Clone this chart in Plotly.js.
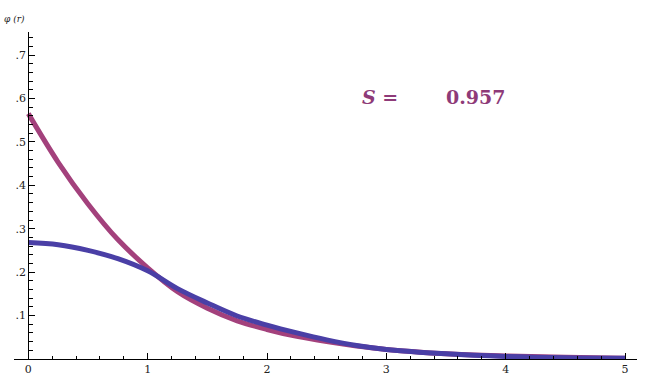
<!DOCTYPE html>
<html>
<head>
<meta charset="utf-8">
<script src="https://cdn.plot.ly/plotly-3.0.1.min.js"></script>
<style>html,body{margin:0;padding:0;background:#fff;}#chart{width:649px;height:377px;}</style>
</head>
<body>
<div id="chart"></div>
<script>
const xVals = [0, 0.25, 0.5, 0.75, 1.0, 1.25, 1.5, 1.75, 2.0, 2.25, 2.5, 2.75, 3.0, 3.5, 4.0, 4.5, 5.0];
const redVals = [0.565, 0.453, 0.357, 0.275, 0.210, 0.155, 0.117, 0.088, 0.068, 0.052, 0.040, 0.030, 0.022, 0.012, 0.007, 0.004, 0.002];
const blueVals = [0.268, 0.263, 0.250, 0.231, 0.203, 0.162, 0.129, 0.099, 0.078, 0.060, 0.044, 0.031, 0.022, 0.012, 0.006, 0.003, 0.002];
const xTicks = [0, 1, 2, 3, 4, 5];
const xTickText = ['0', '1', '2', '3', '4', '5'];
const yTicks = [0.1, 0.2, 0.3, 0.4, 0.5, 0.6, 0.7];
const yTickText = ['.1', '.2', '.3', '.4', '.5', '.6', '.7'];
const sLabel = 'S =';
const sValue = '0.957';
const yTitle = 'φ (r)';

const serif = 'DejaVu Serif';
const traces = [
  {x: xVals, y: redVals, mode: 'lines', line: {color: '#a3417c', width: 5, shape: 'spline'}, hoverinfo: 'skip'},
  {x: xVals, y: blueVals, mode: 'lines', line: {color: '#4a3fa6', width: 5, shape: 'spline'}, hoverinfo: 'skip'}
];

const tickFont = {family: serif, size: 11, color: '#222'};
const layout = {
  width: 649, height: 377,
  font: {family: serif},
  margin: {l: 14, r: 12, t: 32, b: 18, pad: 0},
  paper_bgcolor: '#fff', plot_bgcolor: '#fff',
  showlegend: false,
  xaxis: {
    range: [-0.12, 5.1], showgrid: false, zeroline: false,
    showline: true, linecolor: '#000', linewidth: 1,
    tickmode: 'array', tickvals: xTicks, ticktext: xTickText,
    ticks: 'inside', ticklen: 6, tickwidth: 1, tickcolor: '#000',
    tickfont: tickFont,
    minor: {dtick: 0.2, tick0: 0, ticks: 'inside', ticklen: 3, tickwidth: 1, tickcolor: '#000', showgrid: false}
  },
  yaxis: {
    range: [0, 0.753], showgrid: false, zeroline: false,
    anchor: 'free', position: 0.12 / 5.22,
    showline: true, linecolor: '#000', linewidth: 1,
    tickmode: 'array', tickvals: yTicks, ticktext: yTickText,
    ticks: 'inside', ticklen: 6, tickwidth: 1, tickcolor: '#000',
    tickfont: tickFont,
    minor: {dtick: 0.02, tick0: 0, ticks: 'inside', ticklen: 4, tickwidth: 1, tickcolor: '#000', showgrid: false}
  },
  annotations: [
    {xref: 'paper', yref: 'paper', x: 0.0, y: 1.0, xanchor: 'left', yanchor: 'bottom', yshift: 6, xshift: -12,
     text: '<i>' + yTitle + '</i>', showarrow: false, font: {family: serif, size: 9, color: '#222'}},
    {xref: 'x', yref: 'y', x: 2.78, y: 0.604, xanchor: 'left', yanchor: 'middle',
     text: '<b><i>S</i> =</b>', showarrow: false, font: {family: serif, size: 19, color: '#8e3a78'}},
    {xref: 'x', yref: 'y', x: 3.48, y: 0.604, xanchor: 'left', yanchor: 'middle',
     text: '<b>' + sValue + '</b>', showarrow: false, font: {family: serif, size: 19, color: '#8e3a78'}}
  ]
};
Plotly.newPlot('chart', traces, layout, {staticPlot: true, displayModeBar: false});
</script>
</body>
</html>
